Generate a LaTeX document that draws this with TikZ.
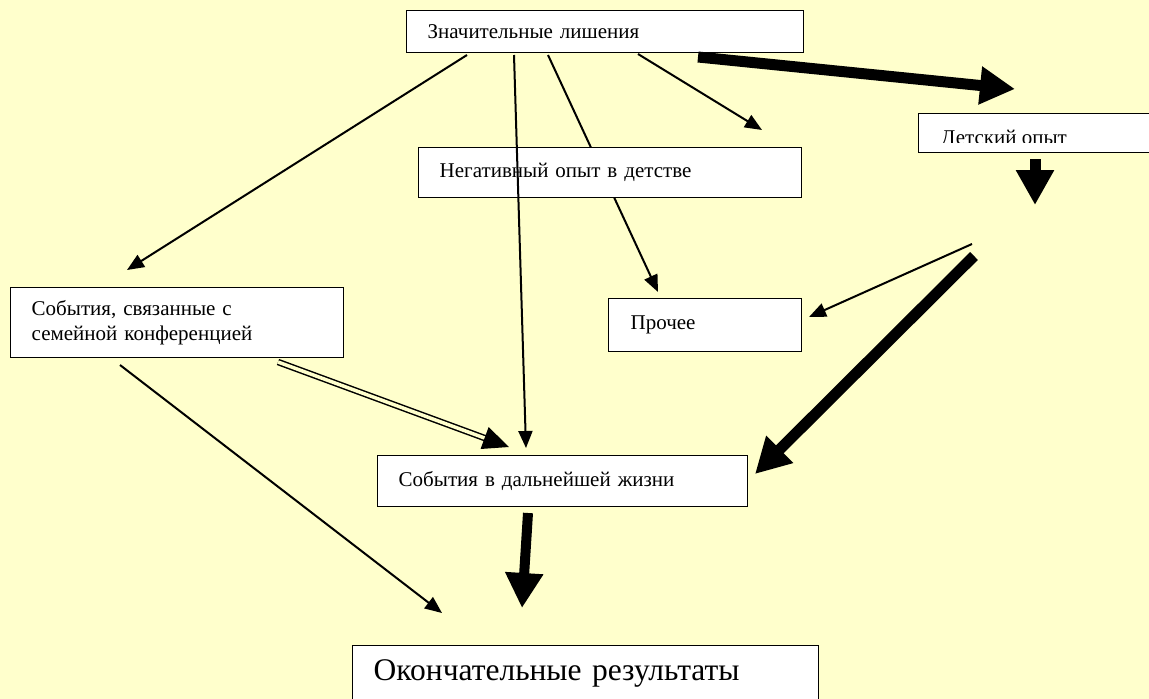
\documentclass[tikz,border=0pt]{standalone}
\usepackage{fontspec}
\setmainfont{Liberation Serif}
\usetikzlibrary{arrows.meta,backgrounds}
\definecolor{bgyellow}{HTML}{FFFFCC}
\tikzset{
  box/.style={draw=black, line width=1.4pt, fill=white, anchor=north west, inner xsep=21pt, inner ysep=0pt, align=left, font=\fontsize{21}{25}\selectfont},
  thinarr/.style={line width=2pt, -{Triangle[length=17pt,width=14pt]}},
  fatarr/.style={line width=11pt, -{Triangle[length=35pt,width=36pt]}},
  dblarr/.style={double=bgyellow, double distance=3.5pt, line width=1.5pt, -{Triangle[length=26pt,width=23pt]}},
}

\begin{document}
\begin{tikzpicture}[x=1pt,y=1pt,yscale=-1,xscale=1]
\useasboundingbox (0,0) rectangle (1149,699);

%Shape: Boxes
\node[box, minimum width=397pt, minimum height=42pt, text width=355pt] (lish) at (406,10) {Значительные лишения};
\node[box, minimum width=383pt, minimum height=50pt, text width=341pt] (neg) at (418,147) {Негативный опыт в детстве};
\node[box, minimum width=333pt, minimum height=70pt, text width=291pt] (fam) at (10,287) {События, связанные с\\семейной конференцией};
\node[box, minimum width=191pt, minimum height=53pt, text width=149pt, inner xsep=22pt] (other) at (608,298) {Прочее};
\node[box, minimum width=370pt, minimum height=51pt, text width=328pt] (later) at (377,455) {События в дальнейшей жизни};
\node[box, minimum width=466pt, minimum height=56pt, text width=424pt, font=\fontsize{31.5}{38}\selectfont] (final) at (352,645) {Окончательные результаты};
\node[box, minimum width=240pt, minimum height=39pt] (det) at (918,113) {};
% Text Node (cut off by its frame)
\begin{scope}
\clip (918,113) rectangle (1149,142);
\node[anchor=base west, inner sep=0pt, font=\fontsize{21}{25}\selectfont] (detlbl) at (941,144) {Детский опыт};
\end{scope}

%Coordinates of the arrow ends
\coordinate (lishA) at (467,55);
\coordinate (lishB) at (514,55);
\coordinate (lishC) at (548,55);
\coordinate (lishD) at (638,54);
\coordinate (lishE) at (698,57);
\coordinate (famIn) at (127,270);
\coordinate (laterIn) at (526,448);
\coordinate (otherIn) at (658,292);
\coordinate (negIn) at (762,130);
\coordinate (detIn) at (1015,89);
\coordinate (detOut) at (1035,159);
\coordinate (detTip) at (1035,205);
\coordinate (forkA) at (972,244);
\coordinate (forkB) at (974,256);
\coordinate (otherSide) at (809,317);
\coordinate (laterSide) at (755,474);
\coordinate (famOutA) at (278,362);
\coordinate (famOutB) at (120,365);
\coordinate (laterTop) at (509,447);
\coordinate (finalA) at (442,613);
\coordinate (laterOut) at (528,513);
\coordinate (finalB) at (522,608);

\begin{scope}[on background layer]
\fill[bgyellow] (0,0) rectangle (1149,699);
%Line under the box
\draw[thinarr] (lishC) -- (otherIn);
\end{scope}

%Arrows
\draw[thinarr] (lishA) -- (famIn);
\draw[thinarr] (lishB) -- (laterIn);
\draw[thinarr] (lishD) -- (negIn);
\draw[fatarr] (lishE) -- (detIn);
\draw[fatarr] (detOut) -- (detTip);
\draw[thinarr] (forkA) -- (otherSide);
\draw[fatarr] (forkB) -- (laterSide);
\draw[dblarr] (famOutA) -- (laterTop);
\draw[thinarr] (famOutB) -- (finalA);
\draw[fatarr, line width=10pt] (laterOut) -- (finalB);

\end{tikzpicture}
\end{document}
